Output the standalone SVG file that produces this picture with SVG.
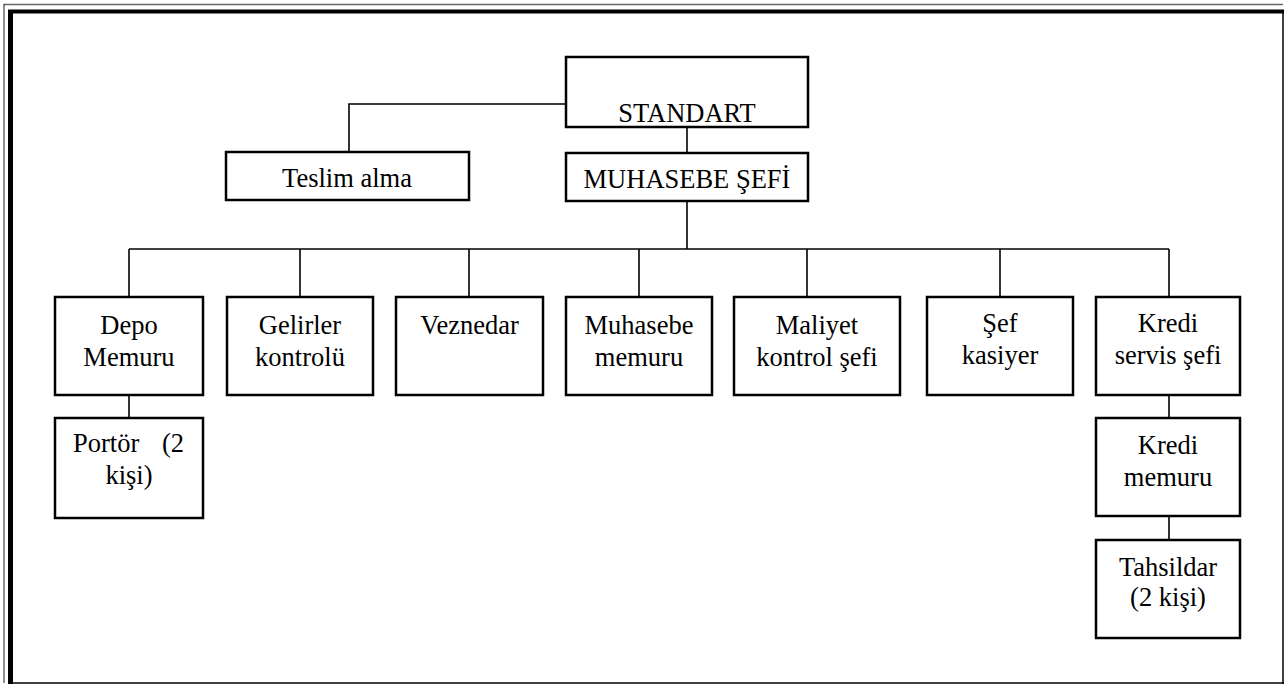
<svg xmlns="http://www.w3.org/2000/svg" width="1286" height="685" viewBox="0 0 1286 685">
  <style>
    .box { fill: #fff; stroke: #000; stroke-width: 2.5; }
    .wire { fill: none; stroke: #000; stroke-width: 1.6; }
    .lbl { font-family: "Liberation Serif", "Times New Roman", serif; font-size: 26.5px; fill: #000; text-anchor: middle; }
    .frame-thick { stroke: #000; fill: none; }
    .frame-thin { stroke: #000; fill: none; stroke-width: 1.5; }
  </style>
  <rect x="0" y="0" width="1286" height="685" fill="#fff"/>

  <!-- page frame: thick-thin border on top/left, thin on right/bottom -->
  <g id="frame">
    <line class="frame-thin" x1="4" y1="4.5" x2="1283" y2="4.5" stroke-opacity="0.6"/>
    <line class="frame-thin" x1="4" y1="4" x2="4" y2="683" stroke-opacity="0.6"/>
    <line class="frame-thick" x1="8" y1="11.5" x2="1284" y2="11.5" stroke-width="4"/>
    <line class="frame-thick" x1="10.5" y1="10" x2="10.5" y2="684" stroke-width="5"/>
    <line class="frame-thin" x1="1283" y1="10" x2="1283" y2="684" stroke-width="2"/>
    <line class="frame-thin" x1="8" y1="683" x2="1284" y2="683" stroke-width="2"/>
  </g>

  <!-- connectors -->
  <g id="connectors">
    <polyline class="wire" points="566,104 349,104 349,152"/>
    <line class="wire" x1="687" y1="127" x2="687" y2="153"/>
    <line class="wire" x1="687" y1="201" x2="687" y2="249"/>
    <line class="wire" x1="129" y1="249" x2="1169" y2="249"/>
    <line class="wire" x1="129" y1="249" x2="129" y2="297"/>
    <line class="wire" x1="300" y1="249" x2="300" y2="297"/>
    <line class="wire" x1="469" y1="249" x2="469" y2="297"/>
    <line class="wire" x1="639" y1="249" x2="639" y2="297"/>
    <line class="wire" x1="807" y1="249" x2="807" y2="297"/>
    <line class="wire" x1="1000" y1="249" x2="1000" y2="297"/>
    <line class="wire" x1="1169" y1="249" x2="1169" y2="297"/>
    <line class="wire" x1="129" y1="395" x2="129" y2="418"/>
    <line class="wire" x1="1169" y1="395" x2="1169" y2="418"/>
    <line class="wire" x1="1169" y1="516" x2="1169" y2="540"/>
  </g>

  <g id="standart">
    <rect class="box" x="566" y="57" width="242" height="70"/>
    <text class="lbl" x="687" y="122">STANDART</text>
  </g>
  <g id="teslim-alma">
    <rect class="box" x="226" y="152" width="243" height="48"/>
    <text class="lbl" x="347" y="187">Teslim alma</text>
  </g>
  <g id="muhasebe-sefi">
    <rect class="box" x="566" y="153" width="242" height="48"/>
    <text class="lbl" x="687" y="188">MUHASEBE ŞEFİ</text>
  </g>

  <g id="depo-memuru">
    <rect class="box" x="55" y="297" width="148" height="98"/>
    <text class="lbl" x="129" y="334">Depo</text>
    <text class="lbl" x="129" y="366">Memuru</text>
  </g>
  <g id="portor">
    <rect class="box" x="55" y="418" width="148" height="100"/>
    <text class="lbl" x="73" y="452" text-anchor="start" style="text-anchor:start">Portör</text>
    <text class="lbl" x="184" y="452" style="text-anchor:end">(2</text>
    <text class="lbl" x="129" y="484">kişi)</text>
  </g>
  <g id="gelirler-kontrolu">
    <rect class="box" x="227" y="297" width="146" height="98"/>
    <text class="lbl" x="300" y="334">Gelirler</text>
    <text class="lbl" x="300" y="366">kontrolü</text>
  </g>
  <g id="veznedar">
    <rect class="box" x="396" y="297" width="147" height="98"/>
    <text class="lbl" x="469.5" y="334">Veznedar</text>
  </g>
  <g id="muhasebe-memuru">
    <rect class="box" x="566" y="297" width="146" height="98"/>
    <text class="lbl" x="639" y="334">Muhasebe</text>
    <text class="lbl" x="639" y="366">memuru</text>
  </g>
  <g id="maliyet-kontrol-sefi">
    <rect class="box" x="734" y="297" width="166" height="98"/>
    <text class="lbl" x="817" y="334">Maliyet</text>
    <text class="lbl" x="817" y="366">kontrol şefi</text>
  </g>
  <g id="sef-kasiyer">
    <rect class="box" x="927" y="297" width="146" height="98"/>
    <text class="lbl" x="1000" y="332">Şef</text>
    <text class="lbl" x="1000" y="364">kasiyer</text>
  </g>
  <g id="kredi-servis-sefi">
    <rect class="box" x="1096" y="297" width="144" height="98"/>
    <text class="lbl" x="1168" y="332">Kredi</text>
    <text class="lbl" x="1168" y="364">servis şefi</text>
  </g>
  <g id="kredi-memuru">
    <rect class="box" x="1096" y="418" width="144" height="98"/>
    <text class="lbl" x="1168" y="454">Kredi</text>
    <text class="lbl" x="1168" y="486">memuru</text>
  </g>
  <g id="tahsildar">
    <rect class="box" x="1096" y="540" width="144" height="98"/>
    <text class="lbl" x="1168" y="576">Tahsildar</text>
    <text class="lbl" x="1168" y="606">(2 kişi)</text>
  </g>
</svg>
